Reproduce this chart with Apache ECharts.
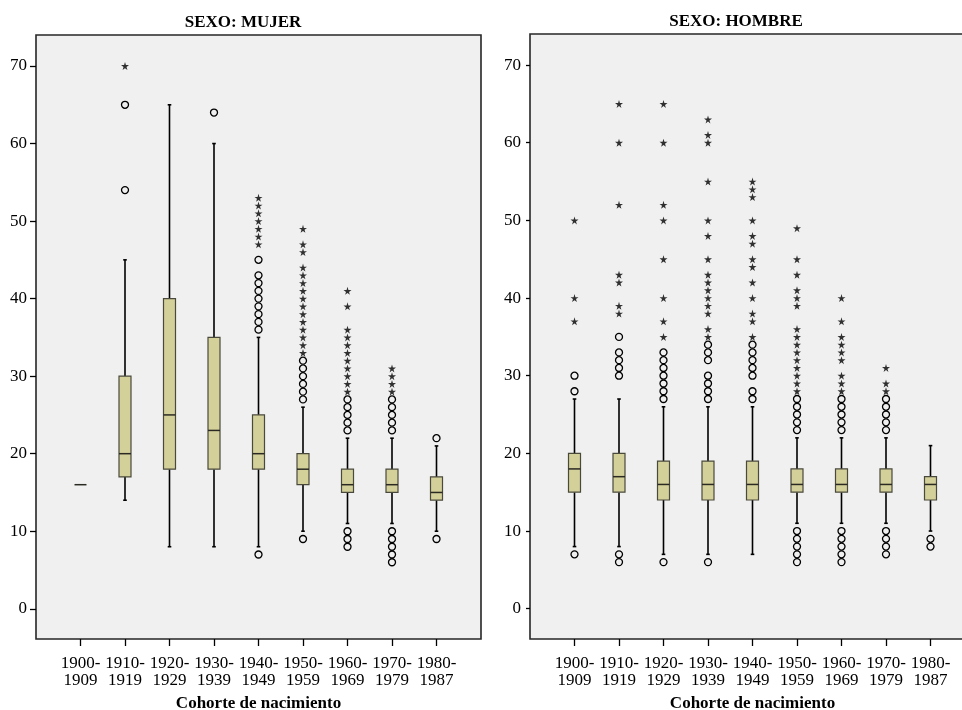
<!DOCTYPE html>
<html>
<head>
<meta charset="utf-8">
<script src="https://cdn.jsdelivr.net/npm/echarts@6/dist/echarts.min.js"></script>
<style>
html,body{margin:0;padding:0;background:#fff;}
#chart{width:962px;height:710px;}
</style>
</head>
<body>
<div id="chart"></div>
<script>
// ---- data ----
const categories = ['1900-\n1909','1910-\n1919','1920-\n1929','1930-\n1939','1940-\n1949','1950-\n1959','1960-\n1969','1970-\n1979','1980-\n1987'];
const yTicks = [0,10,20,30,40,50,60,70];
const panelTitles = ['SEXO: MUJER','SEXO: HOMBRE'];
const xAxisName = 'Cohorte de nacimiento';

// [lower whisker, Q1, median, Q3, upper whisker]
const mujerBoxes = [
  [16,16,16,16,16],
  [14,17,20,30,45],
  [8,18,25,40,65],
  [8,18,23,35,60],
  [8,18,20,25,35],
  [10,16,18,20,26],
  [11,15,16,18,22],
  [11,15,16,18,22],
  [10,14,15,17,21]
];
const mujerCircles = [
  [],
  [54,65],
  [],
  [64],
  [7,36,37,38,39,40,41,42,43,45],
  [9,27,28,29,30,31,32],
  [8,9,10,23,24,25,26,27],
  [6,7,8,9,10,23,24,25,26,27],
  [9,22]
];
const mujerStars = [
  [],
  [70],
  [],
  [],
  [47,48,49,50,51,52,53],
  [33,34,35,36,37,38,39,40,41,42,43,44,46,47,49],
  [28,29,30,31,32,33,34,35,36,39,41],
  [28,29,30,31],
  []
];

const hombreBoxes = [
  [8,15,18,20,27],
  [8,15,17,20,27],
  [7,14,16,19,26],
  [7,14,16,19,26],
  [7,14,16,19,26],
  [11,15,16,18,22],
  [11,15,16,18,22],
  [11,15,16,18,22],
  [10,14,16,17,21]
];
const hombreCircles = [
  [7,28,30],
  [6,7,30,31,32,33,35],
  [6,27,28,29,30,31,32,33],
  [6,27,28,29,30,32,33,34],
  [27,28,30,31,32,33,34],
  [6,7,8,9,10,23,24,25,26,27],
  [6,7,8,9,10,23,24,25,26,27],
  [7,8,9,10,23,24,25,26,27],
  [8,9]
];
const hombreStars = [
  [37,40,50],
  [38,39,42,43,52,60,65],
  [35,37,40,45,50,52,60,65],
  [35,36,38,39,40,41,42,43,45,48,50,55,60,61,63],
  [35,37,38,40,42,44,45,47,48,50,53,54,55],
  [28,29,30,31,32,33,34,35,36,39,40,41,43,45,49],
  [28,29,30,32,33,34,35,37,40],
  [28,29,31],
  []
];

// ---- chart ----
const FONT = '"Liberation Serif", "Times New Roman", serif';
const axisCats = [''].concat(categories, ['']);
const STAR = 'path://M50,0 L61,35 L98,35 L68,57 L79,91 L50,70 L21,91 L32,57 L2,35 L39,35 Z';

function boxData(boxes){ return boxes.map((b,i)=>[i+1].concat(b)); }
function pointData(lists){
  const out=[];
  lists.forEach((l,i)=>l.forEach(v=>out.push([i+1,v])));
  return out;
}

function renderBox(params, api){
  const x = api.value(0);
  const low = api.coord([x, api.value(1)]);
  const q1 = api.coord([x, api.value(2)]);
  const med = api.coord([x, api.value(3)]);
  const q3 = api.coord([x, api.value(4)]);
  const high = api.coord([x, api.value(5)]);
  const cx = low[0];
  const hw = 6, cap = 1.8;
  const wl = {stroke:'#000', lineWidth:1.6};
  const children = [];
  if (high[1] < q3[1]) {
    children.push({type:'line', shape:{x1:cx,y1:q3[1],x2:cx,y2:high[1]}, style:wl});
    children.push({type:'line', shape:{x1:cx-cap,y1:high[1],x2:cx+cap,y2:high[1]}, style:wl});
  }
  if (low[1] > q1[1]) {
    children.push({type:'line', shape:{x1:cx,y1:q1[1],x2:cx,y2:low[1]}, style:wl});
    children.push({type:'line', shape:{x1:cx-cap,y1:low[1],x2:cx+cap,y2:low[1]}, style:wl});
  }
  if (q1[1] - q3[1] > 0.5) {
    children.push({type:'rect', shape:{x:cx-hw, y:q3[1], width:hw*2, height:q1[1]-q3[1]},
      style:{fill:'#d4d09a', stroke:'#4a4a3c', lineWidth:1.2}});
  }
  children.push({type:'line', shape:{x1:cx-hw,y1:med[1],x2:cx+hw,y2:med[1]}, style:{stroke:'#2a2a22', lineWidth:1.5}});
  return {type:'group', children};
}

const grids = [
  {left:36, top:35, width:445, height:604},
  {left:530, top:34, width:445, height:605}
];
const tickLens = [6, 4];

const option = {
  animation:false,
  backgroundColor:'#ffffff',
  grid: grids.map(g=>Object.assign({show:true, containLabel:false, outerBoundsMode:'none', backgroundColor:'#f0f0f0', borderColor:'#262626', borderWidth:1.6}, g)),
  xAxis: [0,1].map(gi=>({
    type:'category', gridIndex:gi, data:axisCats, boundaryGap:false, position:'bottom',
    axisLine:{show:false, onZero:false},
    axisTick:{show:true, length:7, interval:(i,v)=>v!=='', lineStyle:{color:'#000', width:1.3}},
    axisLabel:{interval:0, margin:16, fontSize:17, lineHeight:17, fontFamily:FONT, color:'#000'},
    splitLine:{show:false},
    name:xAxisName, nameLocation:'middle', nameGap:56,
    nameTextStyle:{fontWeight:'bold', fontSize:17, fontFamily:FONT, color:'#000'}
  })),
  yAxis: [0,1].map(gi=>({
    type:'value', gridIndex:gi, min:-3.9, max:74,
    axisLine:{show:false, onZero:false},
    splitLine:{show:false},
    axisTick:{show:true, length:tickLens[gi], customValues:yTicks, lineStyle:{color:'#000', width:1.3}},
    axisLabel:{customValues:yTicks, margin:9, fontSize:17, fontFamily:FONT, color:'#000'}
  })),
  graphic: [
    {type:'text', x:243, y:23, style:{text:panelTitles[0], font:'bold 17px '+FONT, fill:'#000', textAlign:'center', textVerticalAlign:'middle'}},
    {type:'text', x:736, y:22, style:{text:panelTitles[1], font:'bold 17px '+FONT, fill:'#000', textAlign:'center', textVerticalAlign:'middle'}}
  ],
  series: []
};

[[mujerBoxes, mujerCircles, mujerStars],[hombreBoxes, hombreCircles, hombreStars]].forEach((set, gi)=>{
  option.series.push({
    type:'custom', xAxisIndex:gi, yAxisIndex:gi, renderItem:renderBox,
    data:boxData(set[0]), z:2
  });
  option.series.push({
    type:'scatter', xAxisIndex:gi, yAxisIndex:gi, symbol:'circle', symbolSize:7,
    itemStyle:{color:'#f0f0f0', borderColor:'#000', borderWidth:1.3, opacity:1},
    data:pointData(set[1]), z:3
  });
  option.series.push({
    type:'scatter', xAxisIndex:gi, yAxisIndex:gi, symbol:STAR, symbolSize:8,
    itemStyle:{color:'#000'},
    data:pointData(set[2]), z:3
  });
});

const chart = echarts.init(document.getElementById('chart'), null, {renderer:'canvas'});
chart.setOption(option);
</script>
</body>
</html>
